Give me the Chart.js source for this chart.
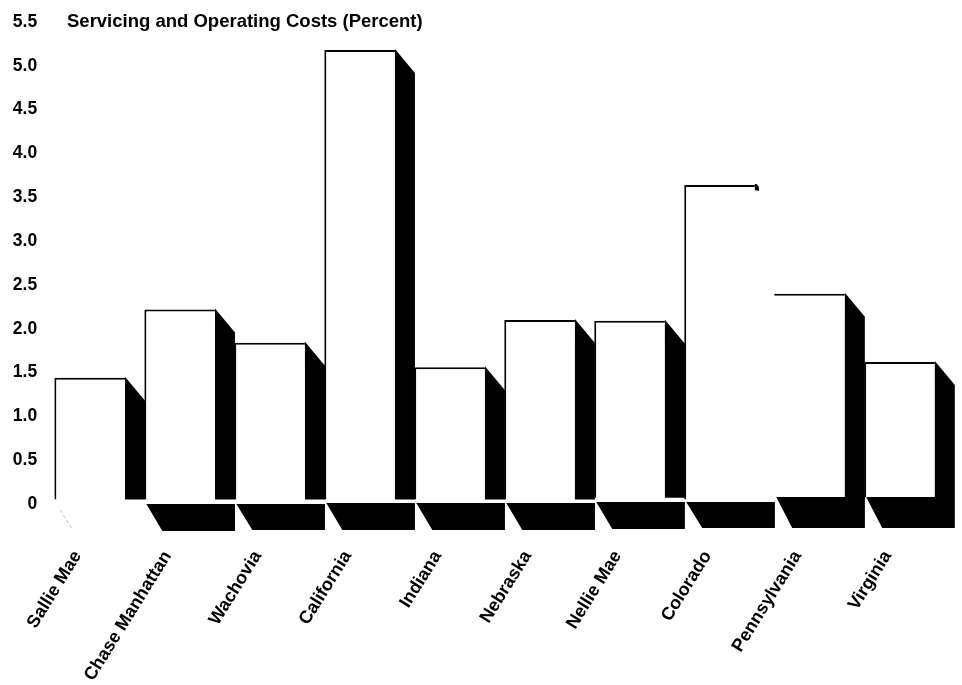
<!DOCTYPE html>
<html>
<head>
<meta charset="utf-8">
<style>
  html, body { margin: 0; padding: 0; background: #fff; }
  canvas { display: block; }
</style>
<script src="https://cdn.jsdelivr.net/npm/chart.js@4"></script>
</head>
<body>
<canvas id="myChart" width="962" height="685"></canvas>
<script>
const lenders = ["Sallie Mae", "Chase Manhattan", "Wachovia", "California", "Indiana", "Nebraska", "Nellie Mae", "Colorado", "Pennsylvania", "Virginia"];
const costs = [1.44, 2.22, 1.84, 5.18, 1.56, 2.10, 2.09, 3.64, 2.40, 1.62];
const barFloors = [0.05, 0.05, 0.05, 0.05, 0.05, 0.05, 0.07, 0.05, 0.08, 0.08];

const titleText = "Servicing and Operating Costs (Percent)";
const fontFamily = "'Liberation Sans', Arial, sans-serif";

// the scan is a bit skewed, so the floor shadows drift upward going right
const floorTops = [504, 504, 504, 503, 503, 503, 502, 502, 497, 497];
const floorBottoms = [530, 531, 530, 530, 530, 530, 529, 528, 528, 528];

// 3D look: black side and floor shadows hung off each bar element
const shadowPlugin = {
  id: "shadows",
  afterDatasetsDraw(chart) {
    const ctx = chart.ctx;
    const bars = chart.getDatasetMeta(0).data;
    ctx.save();
    ctx.fillStyle = "#000";
    bars.forEach((bar, i) => {
      const left = bar.x - bar.width / 2;
      const right = bar.x + bar.width / 2;
      const name = lenders[i];

      if (name === "Colorado") {
        // only a small tip of the side shadow survives in the original
        ctx.beginPath();
        ctx.moveTo(right, bar.y - 1);
        ctx.lineTo(right + 2, bar.y - 1);
        ctx.lineTo(right + 4, bar.y + 2);
        ctx.lineTo(right + 4, bar.y + 6);
        ctx.lineTo(right, bar.y + 5);
        ctx.closePath();
        ctx.fill();
      } else {
        ctx.beginPath();
        ctx.moveTo(right, bar.y - 1);
        ctx.lineTo(right + 20, bar.y + 23);
        ctx.lineTo(right + 20, bar.base);
        ctx.lineTo(right, bar.base);
        ctx.closePath();
        ctx.fill();
      }

      if (name === "Sallie Mae") {
        // floor shadow is just a faint trace here
        ctx.strokeStyle = "#999";
        ctx.lineWidth = 0.7;
        ctx.setLineDash([3, 3]);
        ctx.beginPath();
        ctx.moveTo(left + 6, floorTops[i] + 6);
        ctx.lineTo(left + 17, floorBottoms[i] - 2);
        ctx.stroke();
        ctx.setLineDash([]);
      } else {
        const x0 = left + 2;
        ctx.beginPath();
        ctx.moveTo(x0, floorTops[i]);
        ctx.lineTo(right + 20, floorTops[i]);
        ctx.lineTo(right + 20, floorBottoms[i]);
        ctx.lineTo(x0 + 16, floorBottoms[i]);
        ctx.closePath();
        ctx.fill();
      }
    });

    ctx.font = "bold 18.5px " + fontFamily;
    ctx.textBaseline = "middle";
    ctx.textAlign = "left";
    ctx.fillText(titleText, 67, 22);
    ctx.restore();
  },
};

new Chart(document.getElementById("myChart"), {
  type: "bar",
  data: {
    labels: lenders,
    datasets: [
      {
        data: costs.map((v, i) => [barFloors[i], v]),
        backgroundColor: "#fff",
        borderColor: "#000",
        borderSkipped: false,
        borderWidth: (c) => ({
          top: 2,
          left: lenders[c.dataIndex] === "Pennsylvania" ? 0 : 2,
          right: 0,
          bottom: 0,
        }),
        barPercentage: 0.785,
        categoryPercentage: 1,
      },
    ],
  },
  options: {
    responsive: false,
    animation: false,
    layout: { padding: { top: 22, right: 17.5, left: 0, bottom: 0 } },
    plugins: {
      legend: { display: false },
      tooltip: { enabled: false },
    },
    scales: {
      x: {
        grid: { display: false, drawTicks: false },
        border: { display: false },
        afterFit: (s) => {
          s.height = 181;
          // rotated first label must not push the plot area to the right
          s.paddingLeft = 0;
          s.paddingRight = 0;
        },
        ticks: {
          color: "#000",
          font: { family: fontFamily, size: 18, weight: "bold" },
          minRotation: 58,
          maxRotation: 58,
          autoSkip: false,
          padding: 43,
          labelOffset: -12,
        },
      },
      y: {
        min: 0,
        max: 5.5,
        grid: { display: false, drawTicks: false },
        border: { display: false },
        afterFit: (s) => { s.width = 44.7; },
        ticks: {
          stepSize: 0.5,
          color: "#000",
          padding: 7.5,
          font: { family: fontFamily, size: 17.5, weight: "bold" },
          callback: (v) => (v === 0 ? "0" : v.toFixed(1)),
        },
      },
    },
  },
  plugins: [shadowPlugin],
});
</script>
</body>
</html>
